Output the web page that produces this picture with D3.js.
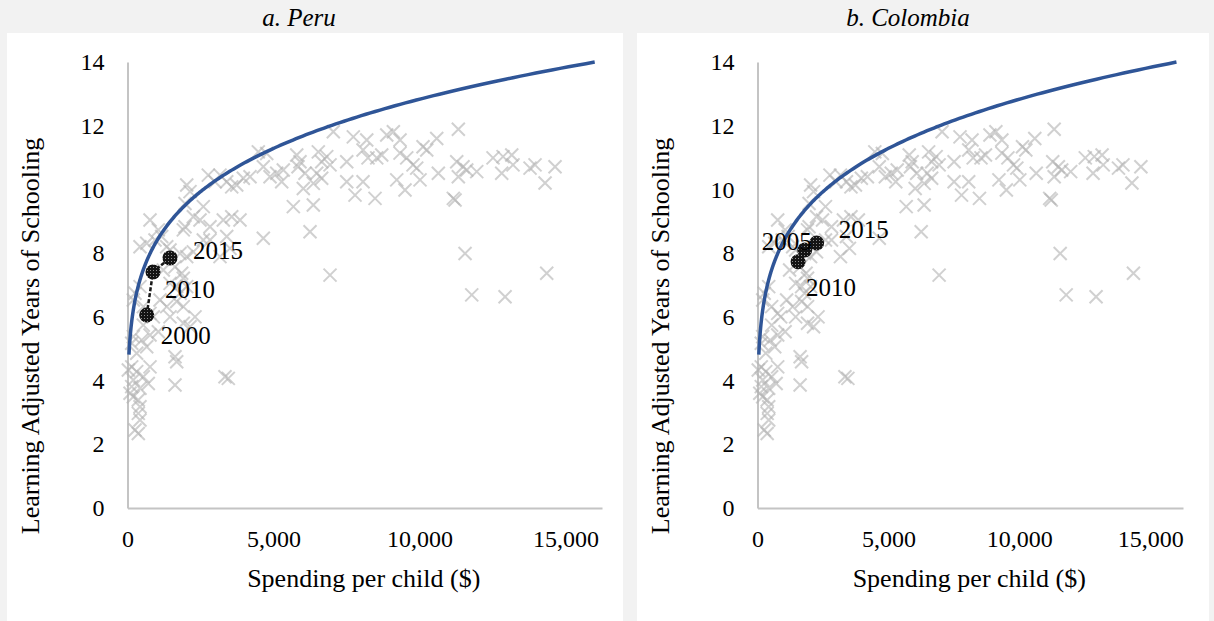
<!DOCTYPE html>
<html>
<head>
<meta charset="utf-8">
<script src="https://cdn.jsdelivr.net/npm/d3@7/dist/d3.min.js"></script>
<style>
  html, body { margin: 0; padding: 0; background: #f2f2f2; }
  svg { display: block; }
  svg text { font-family: "Liberation Serif", "Times New Roman", serif !important; fill: #000; }
</style>
</head>
<body>
<svg id="chart" width="1214" height="621"></svg>
<script>
// Cross-country scatter: spending per child vs learning-adjusted years of schooling
const spending = [
  7049, 7734, 8193, 8878, 9104, 9333, 10590, 11330, 4480, 5795, 5908, 5840, 6535, 6651, 6936, 7508,
  8066, 8237, 8535, 8706, 9333, 9563, 9778, 9905, 10121, 10248, 11275, 11491, 11618, 11960, 12518, 12861,
  13159, 13203, 12816, 13786, 13957, 14642, 14300, 4651, 4881, 5281, 6021, 6651, 7508, 7792, 8066, 8477,
  9220, 9504, 10018, 10645, 11159, 11217, 11330, 5679, 6364, 4651, 6251, 6936, 11560, 11789, 12930, 14357,
  2028, 2141, 2767, 2997, 3168, 3398, 3569, 3740, 3966, 4196, 4768, 5110, 5336, 6079, 6364, 6480,
  6823, 771, 1055, 1969, 2254, 2483, 2596, 2826, 3281, 3569, 3853, 1969, 1911, 2596, 2826, 428,
  658, 942, 1171, 1343, 1456, 1798, 2028, 2254, 3398, 3511, 3168, 1627, 1856, 1911, 1226, 1456,
  1685, 2028, 1798, 428, 257, 199, 541, 771, 1343, 1456, 1113, 1685, 1911,
  1627, 1685, 1627, 3339, 3452, 370, 428, 257, 370, 144, 315, 541, 199, 144, 428, 712,
  199, 86, 541, 199, 486, 658, 315, 144, 2312, 884, 1911, 2141, 1055, 771, 29, 771, 370, 428
];
const schooling = [
  11.81, 11.65, 11.55, 11.71, 11.81, 11.55, 11.60, 11.89, 11.18, 11.08, 10.87, 10.71, 11.18, 10.87, 10.77, 10.87,
  11.24, 10.99, 10.99, 11.08, 11.14, 10.99, 10.77, 10.67, 11.34, 11.24, 10.87, 10.71, 10.61, 10.56, 10.99, 11.03,
  11.08, 10.77, 10.51, 10.67, 10.77, 10.71, 10.20, 10.71, 10.40, 10.24, 10.03, 10.35, 10.24, 9.82, 10.24, 9.72,
  10.30, 9.98, 10.30, 10.51, 9.72, 9.67, 10.40, 9.46, 9.51, 8.47, 8.67, 7.31, 7.99, 6.69, 6.63, 7.37,
  10.14, 9.93, 10.45, 10.24, 10.45, 10.24, 10.08, 10.14, 10.35, 10.40, 11.13, 10.51, 10.61, 10.51, 10.19, 10.51,
  11.03, 9.04, 8.73, 9.56, 9.14, 9.04, 9.46, 8.83, 9.04, 9.14, 9.04, 8.83, 8.73, 8.41, 8.41, 8.20,
  8.31, 8.41, 8.52, 8.20, 8.10, 7.99, 7.89, 8.04, 8.52, 8.15, 7.89, 7.57, 7.37, 7.21, 7.47, 7.05,
  6.95, 6.95, 6.74, 6.95, 6.74, 6.53, 6.32, 6.11, 6.32, 6.00, 6.53, 6.48, 6.32,
  4.75, 4.59, 3.86, 4.12, 4.07, 2.97, 2.76, 2.45, 2.34, 4.43, 4.28, 4.12, 4.02, 3.81, 3.76, 3.91,
  3.49, 3.60, 5.74, 5.38, 5.27, 5.06, 4.86, 5.17, 6.00, 6.00, 5.80, 5.69, 5.53, 5.43, 4.33, 4.43, 3.39, 3.18
];

// Power trendline fitted to the scatter: schooling = a * spending^b
const trendA = 2.335;
const trendB = 0.185;
const trendStart = 50;
const trendEnd = 16000;

// Country trajectories
const peruYears = [2000, 2010, 2015];
const peruSpending = [658, 873, 1456];
const peruSchooling = [6.06, 7.41, 7.85];

const colombiaYears = [2005, 2010, 2015];
const colombiaSpending = [1804, 1549, 2259];
const colombiaSchooling = [8.10, 7.73, 8.32];

const panelTitles = ["a. Peru", "b. Colombia"];
const xTicks = [0, 5000, 10000, 15000];
const yTicks = [0, 2, 4, 6, 8, 10, 12, 14];
const xTitle = "Spending per child ($)";
const yTitle = "Learning Adjusted Years of Schooling";

const svg = d3.select("#chart");

// speckled fill for highlighted country markers
const defs = svg.append("defs");
const pat = defs.append("pattern").attr("id", "speckle")
  .attr("width", 3).attr("height", 3).attr("patternUnits", "userSpaceOnUse");
pat.append("rect").attr("width", 3).attr("height", 3).attr("fill", "#141414");
pat.append("rect").attr("width", 1).attr("height", 1).attr("fill", "#8a8a8a");

function drawPanel(cfg) {
  const g = svg.append("g");
  g.append("rect")
    .attr("x", cfg.panelX).attr("y", 33)
    .attr("width", cfg.panelW).attr("height", 621 - 33)
    .attr("fill", "#ffffff");

  g.append("text")
    .attr("x", cfg.titleX).attr("y", 26)
    .attr("text-anchor", "middle")
    .attr("font-size", 25).attr("font-style", "italic")
    .text(cfg.title);

  const x = d3.scaleLinear().domain([0, 16250]).range(cfg.xRange);
  const y = d3.scaleLinear().domain([0, 14]).range([508, 62]);

  // axes
  const xAxis = g.append("g").attr("transform", `translate(0,${y(0)})`)
    .call(d3.axisBottom(x).tickValues(xTicks).tickFormat(d3.format(",")).tickSize(0).tickPadding(22));
  xAxis.attr("font-family", null);
  xAxis.select(".domain").attr("stroke", "#c4c4c4").attr("stroke-width", 2);
  xAxis.selectAll("text").attr("font-size", 24);

  const yAxis = g.append("g").attr("transform", `translate(${x(0)},0)`)
    .call(d3.axisLeft(y).tickValues(yTicks).tickSize(0).tickPadding(23));
  yAxis.attr("font-family", null);
  yAxis.select(".domain").attr("stroke", "#c4c4c4").attr("stroke-width", 2);
  yAxis.selectAll("text").attr("font-size", 24);

  // axis titles
  g.append("text")
    .attr("x", (cfg.xRange[0] + cfg.xRange[1]) / 2 - 1).attr("y", 587)
    .attr("text-anchor", "middle").attr("font-size", 26)
    .text(xTitle);
  g.append("text")
    .attr("transform", `translate(${cfg.yTitleX},336) rotate(-90)`)
    .attr("text-anchor", "middle").attr("font-size", 26)
    .text(yTitle);

  // scatter of X markers
  const s = 6.5;
  const pts = spending.map((v, i) => [x(v), y(schooling[i])]);
  g.append("g")
    .selectAll("path")
    .data(pts)
    .join("path")
    .attr("d", d => `M${d[0] - s},${d[1] - s}L${d[0] + s},${d[1] + s}M${d[0] - s},${d[1] + s}L${d[0] + s},${d[1] - s}`)
    .attr("stroke", "#b3b3b3")
    .attr("stroke-width", 2)
    .attr("stroke-opacity", 0.62)
    .attr("fill", "none");

  // trendline
  const trend = d3.range(0, 301).map(i => {
    const v = trendStart * Math.pow(trendEnd / trendStart, i / 300);
    return [v, trendA * Math.pow(v, trendB)];
  });
  g.append("path")
    .datum(trend)
    .attr("d", d3.line().x(d => x(d[0])).y(d => y(d[1])))
    .attr("fill", "none")
    .attr("stroke", "#2f5597")
    .attr("stroke-width", 3.5);

  // country path
  const cp = cfg.years.map((yr, i) => ({ yr, sx: x(cfg.spend[i]), sy: y(cfg.school[i]), lab: cfg.labels[i] }));
  g.append("path")
    .datum(cp)
    .attr("d", d3.line().x(d => d.sx).y(d => d.sy))
    .attr("fill", "none")
    .attr("stroke", "#1a1a1a")
    .attr("stroke-width", 2.5)
    .attr("stroke-dasharray", "4,2");
  g.append("g").selectAll("circle")
    .data(cp)
    .join("circle")
    .attr("cx", d => d.sx).attr("cy", d => d.sy)
    .attr("r", 7.5)
    .attr("fill", "url(#speckle)");
  g.append("g").selectAll("text")
    .data(cp)
    .join("text")
    .attr("x", d => d.sx + d.lab.dx)
    .attr("y", d => d.sy + d.lab.dy)
    .attr("text-anchor", d => d.lab.anchor)
    .attr("dominant-baseline", "central")
    .attr("font-size", 25)
    .text(d => d.yr);
}

drawPanel({
  panelX: 7, panelW: 616, titleX: 299, title: panelTitles[0],
  xRange: [127.5, 602], yTitleX: 39,
  years: peruYears, spend: peruSpending, school: peruSchooling,
  labels: [
    { dx: 14, dy: 21, anchor: "start" },
    { dx: 12, dy: 18, anchor: "start" },
    { dx: 23, dy: -7, anchor: "start" }
  ]
});

drawPanel({
  panelX: 637, panelW: 572, titleX: 908, title: panelTitles[1],
  xRange: [757.5, 1183], yTitleX: 669,
  years: colombiaYears, spend: colombiaSpending, school: colombiaSchooling,
  labels: [
    { dx: 7, dy: -8, anchor: "end" },
    { dx: 8, dy: 26, anchor: "start" },
    { dx: 22, dy: -13, anchor: "start" }
  ]
});
</script>
</body>
</html>
